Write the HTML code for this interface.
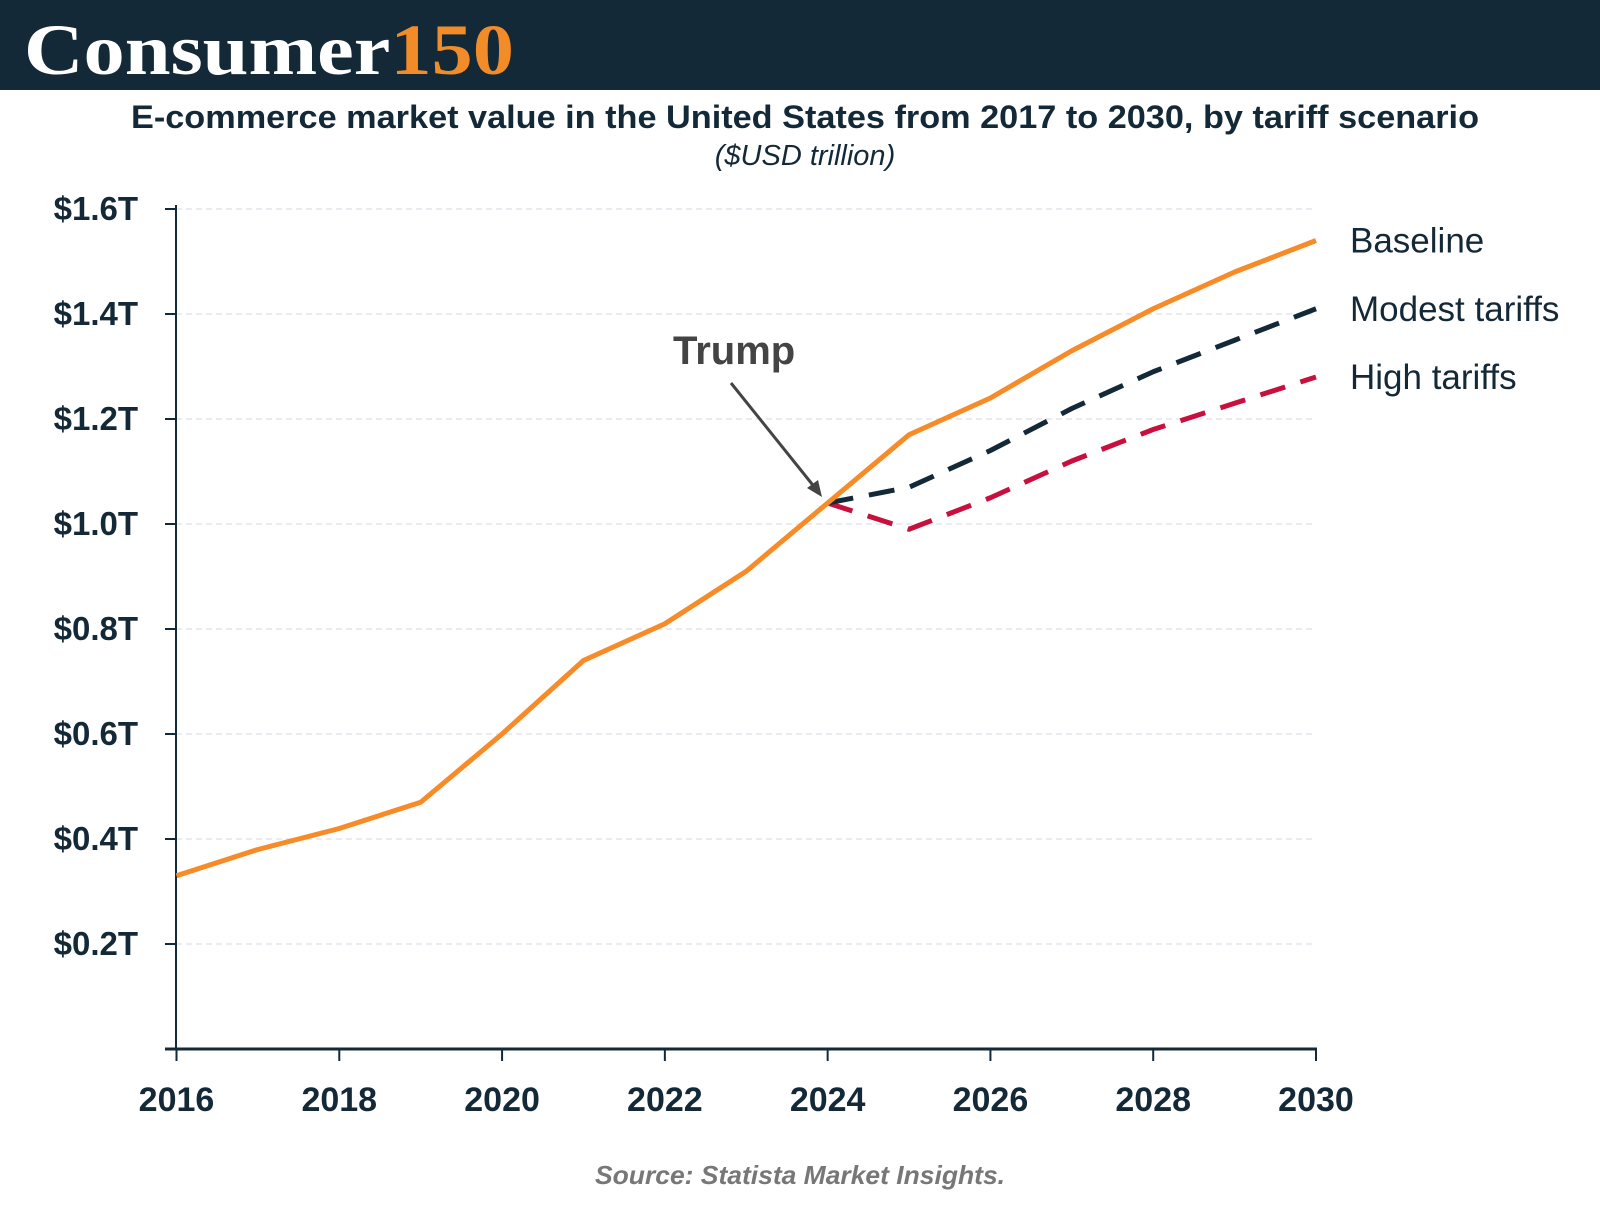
<!DOCTYPE html>
<html><head><meta charset="utf-8"><style>
body{margin:0;width:1600px;height:1200px;background:#fff;overflow:hidden;font-family:"Liberation Sans",sans-serif}
</style></head><body>
<svg width="1600" height="1200" xmlns="http://www.w3.org/2000/svg">
<rect x="0" y="0" width="1600" height="90" fill="#142937"/>
<text x="24" y="74" font-family="Liberation Serif" font-weight="bold" font-size="72" fill="#fff" textLength="490" lengthAdjust="spacingAndGlyphs">Consumer<tspan fill="#f28c28">150</tspan></text>
<text x="805" y="128" text-anchor="middle" font-weight="bold" font-size="32" fill="#142937" textLength="1348" lengthAdjust="spacingAndGlyphs">E-commerce market value in the United States from 2017 to 2030, by tariff scenario</text>
<text x="805" y="165" text-anchor="middle" font-style="italic" font-size="29" fill="#142937">($USD trillion)</text>
<g id="grid"></g><g id="axes"></g><g id="lines"></g>
<text x="673" y="364" font-weight="bold" font-size="40" fill="#444">Trump</text>
<line x1="731" y1="383" x2="816" y2="489" stroke="#444" stroke-width="3"/>
<polygon points="822,497 807,488 818,480" fill="#444"/>
<text x="800" y="1184" text-anchor="middle" font-style="italic" font-weight="bold" font-size="26" fill="#777" textLength="410" lengthAdjust="spacingAndGlyphs">Source: Statista Market Insights.</text>
</svg>
<script>
const years=[2016,2017,2018,2019,2020,2021,2022,2023,2024,2025,2026,2027,2028,2029,2030];
const baseline=[0.33,0.38,0.42,0.47,0.60,0.74,0.81,0.91,1.04,1.17,1.24,1.33,1.41,1.48,1.54];
const scenYears=[2024,2025,2026,2027,2028,2029,2030];
const modest=[1.04,1.07,1.14,1.22,1.29,1.35,1.41];
const high=[1.04,0.99,1.05,1.12,1.18,1.23,1.28];
const yTicks=[0.2,0.4,0.6,0.8,1.0,1.2,1.4,1.6];
const yTickLabels=["$0.2T","$0.4T","$0.6T","$0.8T","$1.0T","$1.2T","$1.4T","$1.6T"];
const xTicks=[2016,2018,2020,2022,2024,2026,2028,2030];
const NS="http://www.w3.org/2000/svg";
const X=v=>176.5+(v-2016)*(1316-176.5)/14;
const Y=v=>1049-v*(1049-209)/1.6;
function mk(t,a,p){const e=document.createElementNS(NS,t);for(const k in a)e.setAttribute(k,a[k]);p.appendChild(e);return e;}
const grid=document.getElementById('grid'),axes=document.getElementById('axes'),lines=document.getElementById('lines');
yTicks.forEach((v,i)=>{
 const g=mk('line',{x1:176,x2:1316,y1:Y(v),y2:Y(v),stroke:'#e3e6ee','stroke-width':1.5,'stroke-dasharray':'6,4'},grid);
 
 
 const t=mk('line',{x1:165,x2:176,y1:Y(v),y2:Y(v),stroke:'#142937','stroke-width':2},axes);
 
 
 const l=mk('text',{x:138,y:Y(v)+11,'text-anchor':'end','font-weight':'bold','font-size':33,fill:'#142937'},axes);
 l.textContent=yTickLabels[i];
 
 
});
let a=mk('line',{x1:176,x2:176,y1:205,y2:1050,stroke:'#142937','stroke-width':2},axes);


a=mk('line',{x1:165,x2:1317,y1:1049,y2:1049,stroke:'#142937','stroke-width':3},axes);


xTicks.forEach(v=>{
 const t=mk('line',{x1:X(v),x2:X(v),y1:1049,y2:1061,stroke:'#142937','stroke-width':2},axes);
 
 
 const l=mk('text',{x:X(v),y:1111,'text-anchor':'middle','font-weight':'bold','font-size':34,fill:'#142937'},axes);
 l.textContent=v;
 
 
});
function series(xs,vs,color,dash,name,label){
 const p=mk('polyline',{points:xs.map((x,i)=>X(x)+','+Y(vs[i])).join(' '),fill:'none',stroke:color,'stroke-width':5,'stroke-dasharray':dash,'stroke-linejoin':'round'},lines);
 
 
 const t=mk('text',{x:1350,y:Y(vs[vs.length-1])+12,'font-size':35,fill:'#142937'},lines);
 t.textContent=label;
 
 
}
series(scenYears,high,'#c8103e','26,16','high-tariffs-line','High tariffs');
series(scenYears,modest,'#142937','26,16','modest-tariffs-line','Modest tariffs');
series(years,baseline,'#f68b28','none','baseline-line','Baseline');
</script>
</body></html>
